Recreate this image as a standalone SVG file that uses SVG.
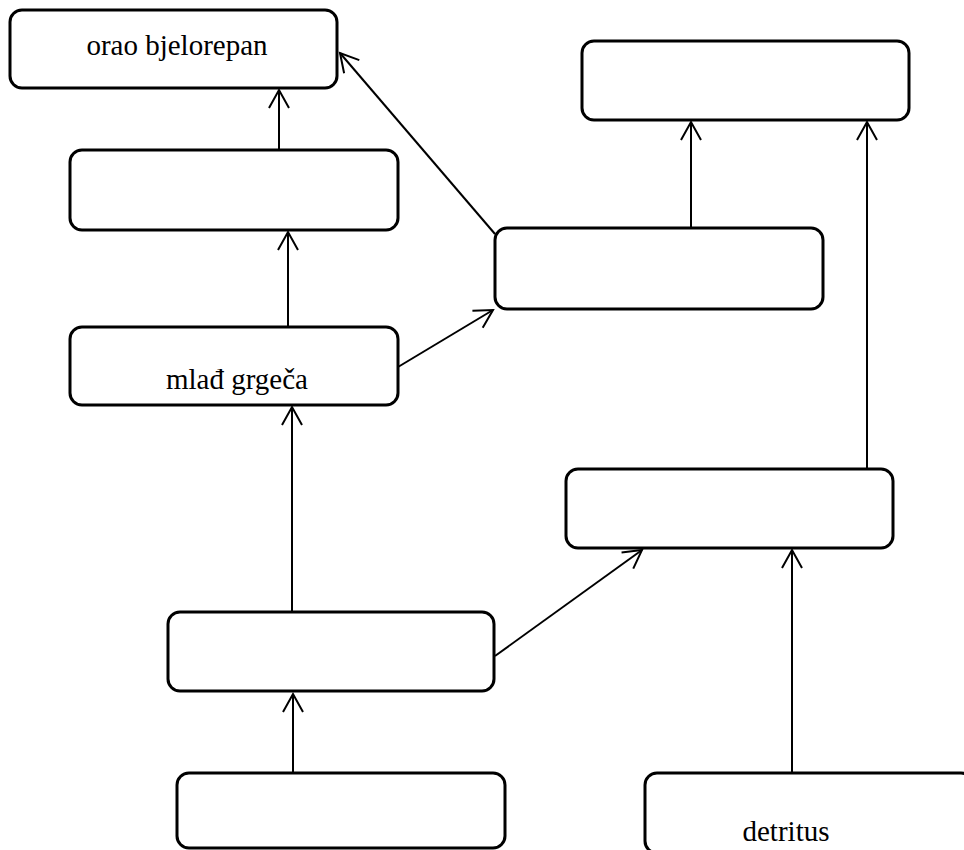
<svg xmlns="http://www.w3.org/2000/svg" width="964" height="850" viewBox="0 0 964 850">
<style>
.box{fill:#fff;stroke:#000;stroke-width:3}
.lbl{font-family:"Liberation Serif","Times New Roman",serif;font-size:29px;fill:#000;text-anchor:middle}
.edge{stroke:#000;stroke-width:2;fill:none;marker-end:url(#arr)}
</style>
<defs>
<marker id="arr" markerUnits="userSpaceOnUse" markerWidth="24" markerHeight="24" viewBox="-20 -12 24 24" refX="0" refY="0" orient="auto">
<path d="M-18,-10 L0,0 L-18,10" fill="none" stroke="#000" stroke-width="2"/>
</marker>
</defs>
<rect width="964" height="850" fill="#fff"/>
<g id="connectors">
<line class="edge" x1="279" y1="150" x2="279" y2="90"/>
<line class="edge" x1="288" y1="327" x2="288" y2="232"/>
<line class="edge" x1="495" y1="234" x2="340" y2="53"/>
<line class="edge" x1="691" y1="228" x2="691" y2="122"/>
<line class="edge" x1="398" y1="367" x2="493" y2="310"/>
<line class="edge" x1="867" y1="469" x2="867" y2="122"/>
<line class="edge" x1="292" y1="612" x2="292" y2="407"/>
<line class="edge" x1="495" y1="656" x2="642" y2="550"/>
<line class="edge" x1="293" y1="773" x2="293" y2="694"/>
<line class="edge" x1="792" y1="773" x2="792" y2="550"/>
</g>
<g id="n1"><rect class="box" x="10" y="10" width="327" height="78" rx="12"/><text class="lbl" x="177" y="55">orao bjelorepan</text></g>
<g id="n2"><rect class="box" x="70" y="150" width="328" height="80" rx="12"/></g>
<g id="n3"><rect class="box" x="70" y="327" width="328" height="78" rx="12"/><text class="lbl" x="237" y="389">mlađ grgeča</text></g>
<g id="n4"><rect class="box" x="495" y="228" width="328" height="81" rx="12"/></g>
<g id="n5"><rect class="box" x="582" y="41" width="327" height="79" rx="12"/></g>
<g id="n6"><rect class="box" x="566" y="469" width="327" height="79" rx="12"/></g>
<g id="n7"><rect class="box" x="168" y="612" width="326" height="79" rx="12"/></g>
<g id="n8"><rect class="box" x="177" y="773" width="328" height="75" rx="12"/></g>
<g id="n9"><rect class="box" x="645" y="773" width="328" height="80" rx="12"/><text class="lbl" x="786" y="841">detritus</text></g>
</svg>
